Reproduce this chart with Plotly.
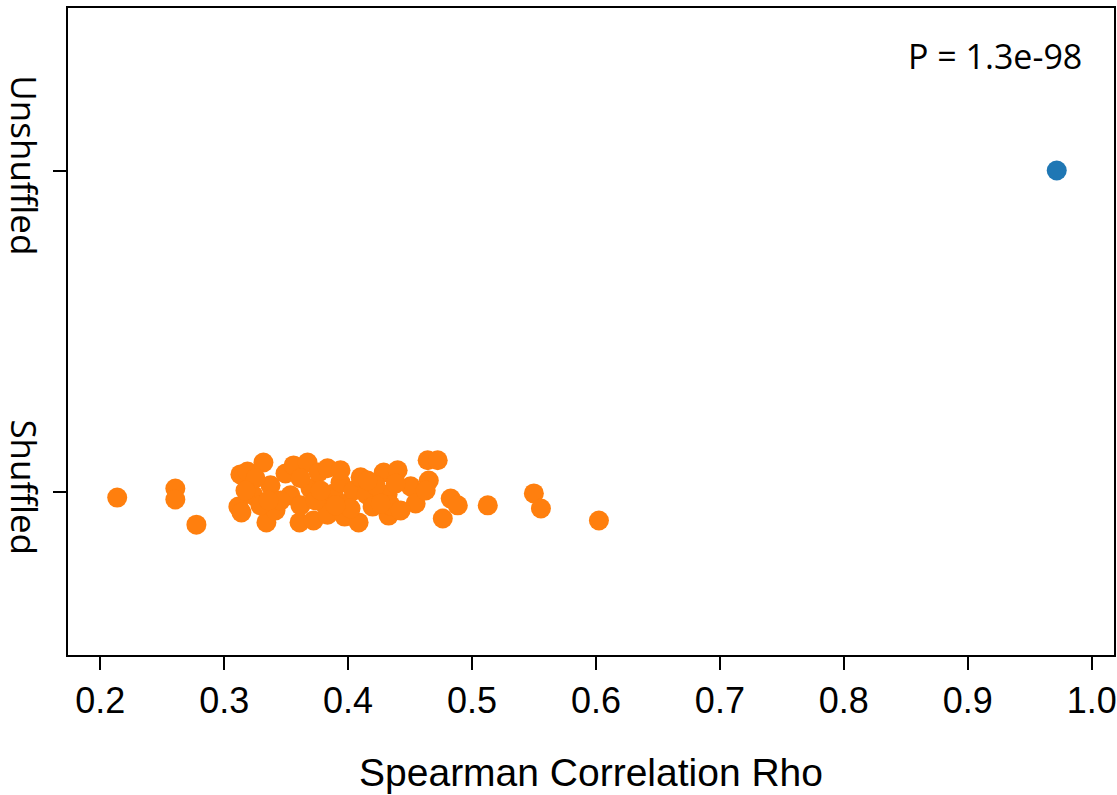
import plotly.graph_objects as go

# Shuffled Spearman rho values and small vertical jitter (category position 0)
shuffled_rho = [0.2137, 0.2606, 0.2606, 0.2776, 0.3131, 0.3188, 0.3115, 0.3139, 0.3236, 0.3317,
                0.3341, 0.3374, 0.3414, 0.3495, 0.3535, 0.3560, 0.3608, 0.3673, 0.3697, 0.3721,
                0.3762, 0.3794, 0.3834, 0.3834, 0.3883, 0.3939, 0.3972, 0.3988, 0.4044, 0.4085,
                0.4101, 0.4149, 0.4287, 0.4319, 0.4327, 0.4343, 0.4400, 0.4505, 0.4545, 0.4642,
                0.4723, 0.4651, 0.4626, 0.4828, 0.4885, 0.4764, 0.5127, 0.5499, 0.5556, 0.6024,
                0.3616, 0.3293, 0.3455, 0.3737, 0.4198, 0.3939, 0.4222, 0.4424, 0.4157, 0.3253,
                0.3616, 0.3778, 0.4020, 0.3899, 0.4263, 0.4384, 0.3172, 0.3358]
shuffled_jit = [-0.016, 0.012, -0.022, -0.100, 0.056, 0.065, -0.044, -0.062, -0.009, 0.093,
                -0.093, 0.022, -0.056, 0.059, -0.009, 0.084, -0.093, 0.093, 0.012, -0.087,
                0.062, -0.031, 0.075, -0.069, -0.003, 0.031, -0.075, -0.034, 0.006, -0.093,
                0.047, -0.006, 0.062, -0.006, -0.072, -0.040, 0.069, 0.019, -0.034, 0.100,
                0.100, 0.037, 0.006, -0.019, -0.040, -0.081, -0.040, -0.003, -0.050, -0.087,
                -0.040, -0.040, -0.025, -0.025, -0.044, 0.069, 0.022, -0.056, 0.037, 0.044,
                0.044, 0.006, -0.050, -0.040, -0.034, 0.028, 0.006, -0.025]

unshuffled_rho = [0.9718]
unshuffled_pos = [1.0]

ytick_vals = [0, 1]
ytick_text = ["Shuffled", "Unshuffled"]
xtick_vals = [0.2, 0.3, 0.4, 0.5, 0.6, 0.7, 0.8, 0.9, 1.0]
xtick_text = ["0.2", "0.3", "0.4", "0.5", "0.6", "0.7", "0.8", "0.9", "1.0"]
p_text = "P = 1.3e-98"

fig = go.Figure()
fig.add_trace(go.Scatter(x=shuffled_rho, y=shuffled_jit, mode="markers",
                         marker=dict(color="#ff7f0e", size=20, line=dict(width=0)),
                         showlegend=False, hoverinfo="x"))
fig.add_trace(go.Scatter(x=unshuffled_rho, y=unshuffled_pos, mode="markers",
                         marker=dict(color="#1f77b4", size=20, line=dict(width=0)),
                         showlegend=False, hoverinfo="x"))

fig.update_layout(
    width=1117, height=795,
    margin=dict(l=68, r=3, t=8, b=140),
    paper_bgcolor="white", plot_bgcolor="white",
    xaxis=dict(range=[0.174, 1.018], tickvals=xtick_vals, ticktext=xtick_text,
               automargin=False,
               showgrid=False, zeroline=False, showline=True, mirror=True,
               linecolor="black", linewidth=2, ticks="outside", ticklen=13,
               tickwidth=2, tickcolor="black",
               tickfont=dict(family="Liberation Sans, Arial", size=36, color="black"),
               title=dict(text="Spearman Correlation Rho", standoff=38,
                          font=dict(family="Liberation Sans, Arial", size=39, color="black"))),
    yaxis=dict(range=[-0.505, 1.505], tickvals=ytick_vals, ticktext=ytick_text,
               tickangle=90, automargin=False,
               showgrid=False, zeroline=False, showline=True, mirror=True,
               linecolor="black", linewidth=2, ticks="outside", ticklen=13,
               tickwidth=2, tickcolor="black",
               tickfont=dict(family="Open Sans, Noto Sans", size=35, color="black")),
    annotations=[dict(text=p_text, xref="paper", yref="paper", x=0.9713, y=0.926,
                      xanchor="right", yanchor="middle", showarrow=False,
                      font=dict(family="Open Sans, Noto Sans", size=34, color="black"))],
)

fig.write_html("out.html", config={"displayModeBar": False},
               post_script="document.body.style.margin='0';document.body.style.overflow='hidden';")
